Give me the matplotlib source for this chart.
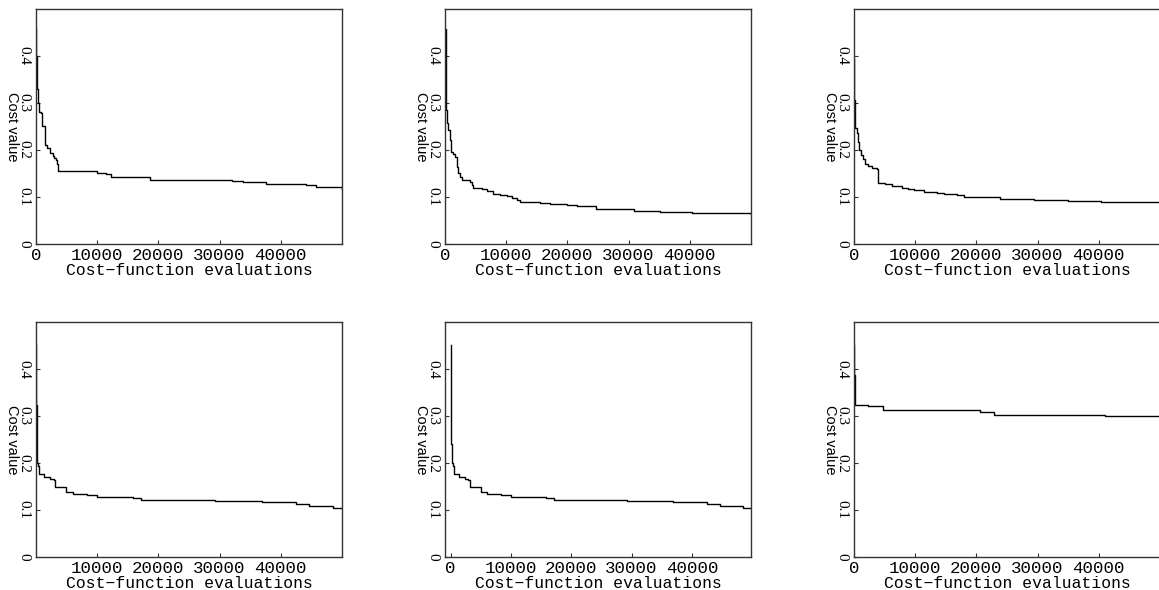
import matplotlib
matplotlib.use("Agg")
import matplotlib.pyplot as plt

# ---- data ----
evals1 = [0, 60, 120, 300, 540, 750, 1030, 1470, 1750, 2300, 2700, 2950, 3250, 3500, 3640,
          9900, 11500, 12300, 18600, 32000, 33800, 37600, 44100, 45800, 50000]
cost1 = [0.457, 0.40, 0.33, 0.30, 0.28, 0.279, 0.25, 0.21, 0.204, 0.193, 0.187, 0.182, 0.179, 0.17, 0.155,
         0.151, 0.149, 0.143, 0.136, 0.134, 0.131, 0.127, 0.126, 0.121, 0.118]

evals2 = [0, 110, 160, 270, 550, 820, 930, 1370, 1640, 2020, 2190, 2460, 2730, 4100, 4370, 4640,
          6000, 6940, 7800, 9000, 10100, 10900, 11750, 12300, 15600, 17200, 19900, 21600, 24600,
          30900, 35200, 40400, 50000]
cost2 = [0.457, 0.33, 0.286, 0.257, 0.243, 0.221, 0.196, 0.191, 0.186, 0.164, 0.15, 0.143, 0.136,
         0.132, 0.125, 0.119, 0.116, 0.113, 0.107, 0.105, 0.102, 0.097, 0.093, 0.090, 0.088, 0.086,
         0.084, 0.081, 0.074, 0.070, 0.068, 0.066, 0.063]

evals3 = [0, 50, 110, 220, 440, 710, 870, 1150, 1530, 1800, 2350, 2900, 3720, 3990, 5080, 6170,
          7810, 8900, 9730, 11370, 13550, 14650, 16800, 17900, 19560, 23930, 29400, 34900, 40300, 50000]
cost3 = [0.393, 0.307, 0.279, 0.246, 0.236, 0.218, 0.20, 0.189, 0.18, 0.171, 0.166, 0.162, 0.159,
         0.13, 0.128, 0.123, 0.12, 0.117, 0.114, 0.111, 0.109, 0.106, 0.105, 0.101, 0.099, 0.095,
         0.093, 0.091, 0.090, 0.089]

evals4 = [0, 55, 110, 220, 385, 550, 1370, 2300, 2860, 3130, 4950, 6040, 8350, 10000, 15770,
          17140, 29200, 36900, 42500, 44600, 48500, 50000]
cost4 = [0.4505, 0.324, 0.24, 0.201, 0.194, 0.177, 0.170, 0.166, 0.163, 0.150, 0.138, 0.133,
         0.131, 0.128, 0.126, 0.121, 0.119, 0.117, 0.112, 0.109, 0.104, 0.104]

evals5 = evals4
cost5 = cost4

evals6 = [0, 50, 110, 220, 2250, 4730, 20660, 22860, 41000, 50000]
cost6 = [0.4505, 0.387, 0.365, 0.324, 0.322, 0.312, 0.309, 0.303, 0.299, 0.299]

series = [(evals1, cost1), (evals2, cost2), (evals3, cost3),
          (evals4, cost4), (evals5, cost5), (evals6, cost6)]
xlims = [(0, 50000), (0, 50000), (0, 50000), (0, 50000), (-940, 49800), (0, 50000)]
xticks_all = [0, 10000, 20000, 30000, 40000]
xticks_list = [xticks_all, xticks_all, xticks_all, xticks_all[1:], xticks_all, xticks_all]
yticks = [0, 0.1, 0.2, 0.3, 0.4]
ytick_labels = ["0", "0.1", "0.2", "0.3", "0.4"]
xlabel = "Cost\u2212function evaluations"
ylabel = "Cost value"

W, H = 1159, 590
fig = plt.figure(figsize=(W / 100, H / 100), dpi=100)

lefts = [36, 445, 854]
tops = [9, 322]
aw, ah = 306, 235

mono = ["Liberation Mono", "DejaVu Sans Mono"]
for i, (xs, ys) in enumerate(series):
    r, c = divmod(i, 3)
    l = lefts[c]
    t = tops[r]
    ax = fig.add_axes([l / W, 1 - (t + ah) / H, aw / W, ah / H])
    ax.plot(xs, ys, drawstyle="steps-post", color="black", lw=1.0)
    ax.set_xlim(*xlims[i])
    ax.set_ylim(0, 0.5)
    ax.set_xticks(xticks_list[i])
    ax.set_xticklabels([str(v) for v in xticks_list[i]], family=mono, fontsize=12.6)
    ax.set_yticks(yticks)
    ax.set_yticklabels(ytick_labels, family="Liberation Serif", fontsize=11,
                       rotation=270, va="center")
    ax.tick_params(direction="in", length=3, width=0.8, color="#333333")
    ax.tick_params(axis="x", pad=3)
    ax.tick_params(axis="y", pad=4)
    for s in ax.spines.values():
        s.set_linewidth(1.0)
        s.set_color("#333333")
    ax.set_xlabel(xlabel, family=mono, fontsize=11.8, labelpad=0)
    ax.set_ylabel(ylabel, family="Liberation Sans", fontsize=10.5, rotation=270,
                  va="center", ha="center")
    ax.yaxis.set_label_coords(-24 / aw, 0.5)

fig.savefig("out.png", dpi=100)
